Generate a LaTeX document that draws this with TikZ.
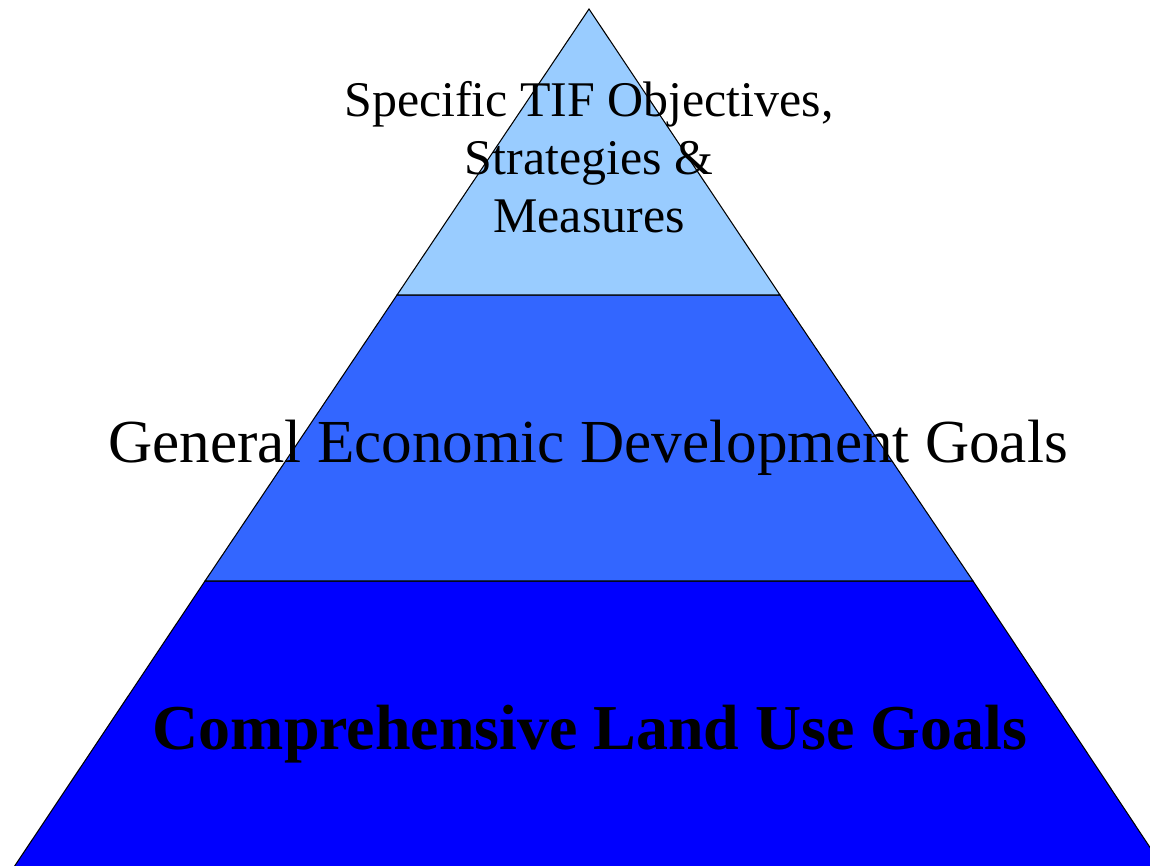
\documentclass[tikz,border=0pt]{standalone}
\usepackage{fontspec}
\setmainfont{Liberation Serif}

\begin{document}
\begin{tikzpicture}[line width=0.3pt]
  \definecolor{topband}{HTML}{99CCFF}
  \definecolor{midband}{HTML}{3366FF}
  \definecolor{lowband}{HTML}{0000FF}
  \useasboundingbox (0,0) rectangle (11.5,8.65);
  \clip (0,0) rectangle (11.5,8.65);
  % piramide: tres franjas (la base queda fuera del borde)
  \fill[lowband] (0.12,-0.05)--(2.05,2.84)--(9.73,2.84)--(11.65,-0.05)--cycle; \draw (0.12,-0.05)--(2.05,2.84)--(9.73,2.84)--(11.65,-0.05)--cycle;
  \fill[midband] (2.05,2.84)--(3.97,5.70)--(7.80,5.70)--(9.73,2.84)--cycle; \draw (2.05,2.84)--(3.97,5.70)--(7.80,5.70)--(9.73,2.84)--cycle;
  \fill[topband] (3.97,5.70)--(5.89,8.56)--(7.80,5.70)--cycle; \draw (3.97,5.70)--(5.89,8.56)--(7.80,5.70)--cycle;
  % textos
  \node[anchor=base,align=center,font=\fontsize{14.2}{16.4}\selectfont] (spec) at (5.89,6.33)
    {Specific TIF Objectives,\\Strategies \&\\Measures};
  \node[anchor=base,font=\fontsize{17.4}{20}\selectfont] (gen) at (5.88,4.03){General Economic Development Goals};
  \node[anchor=base,font=\fontsize{18.2}{21}\selectfont\bfseries] (comp) at (5.90,1.16){Comprehensive Land Use Goals};
\end{tikzpicture}
\end{document}
